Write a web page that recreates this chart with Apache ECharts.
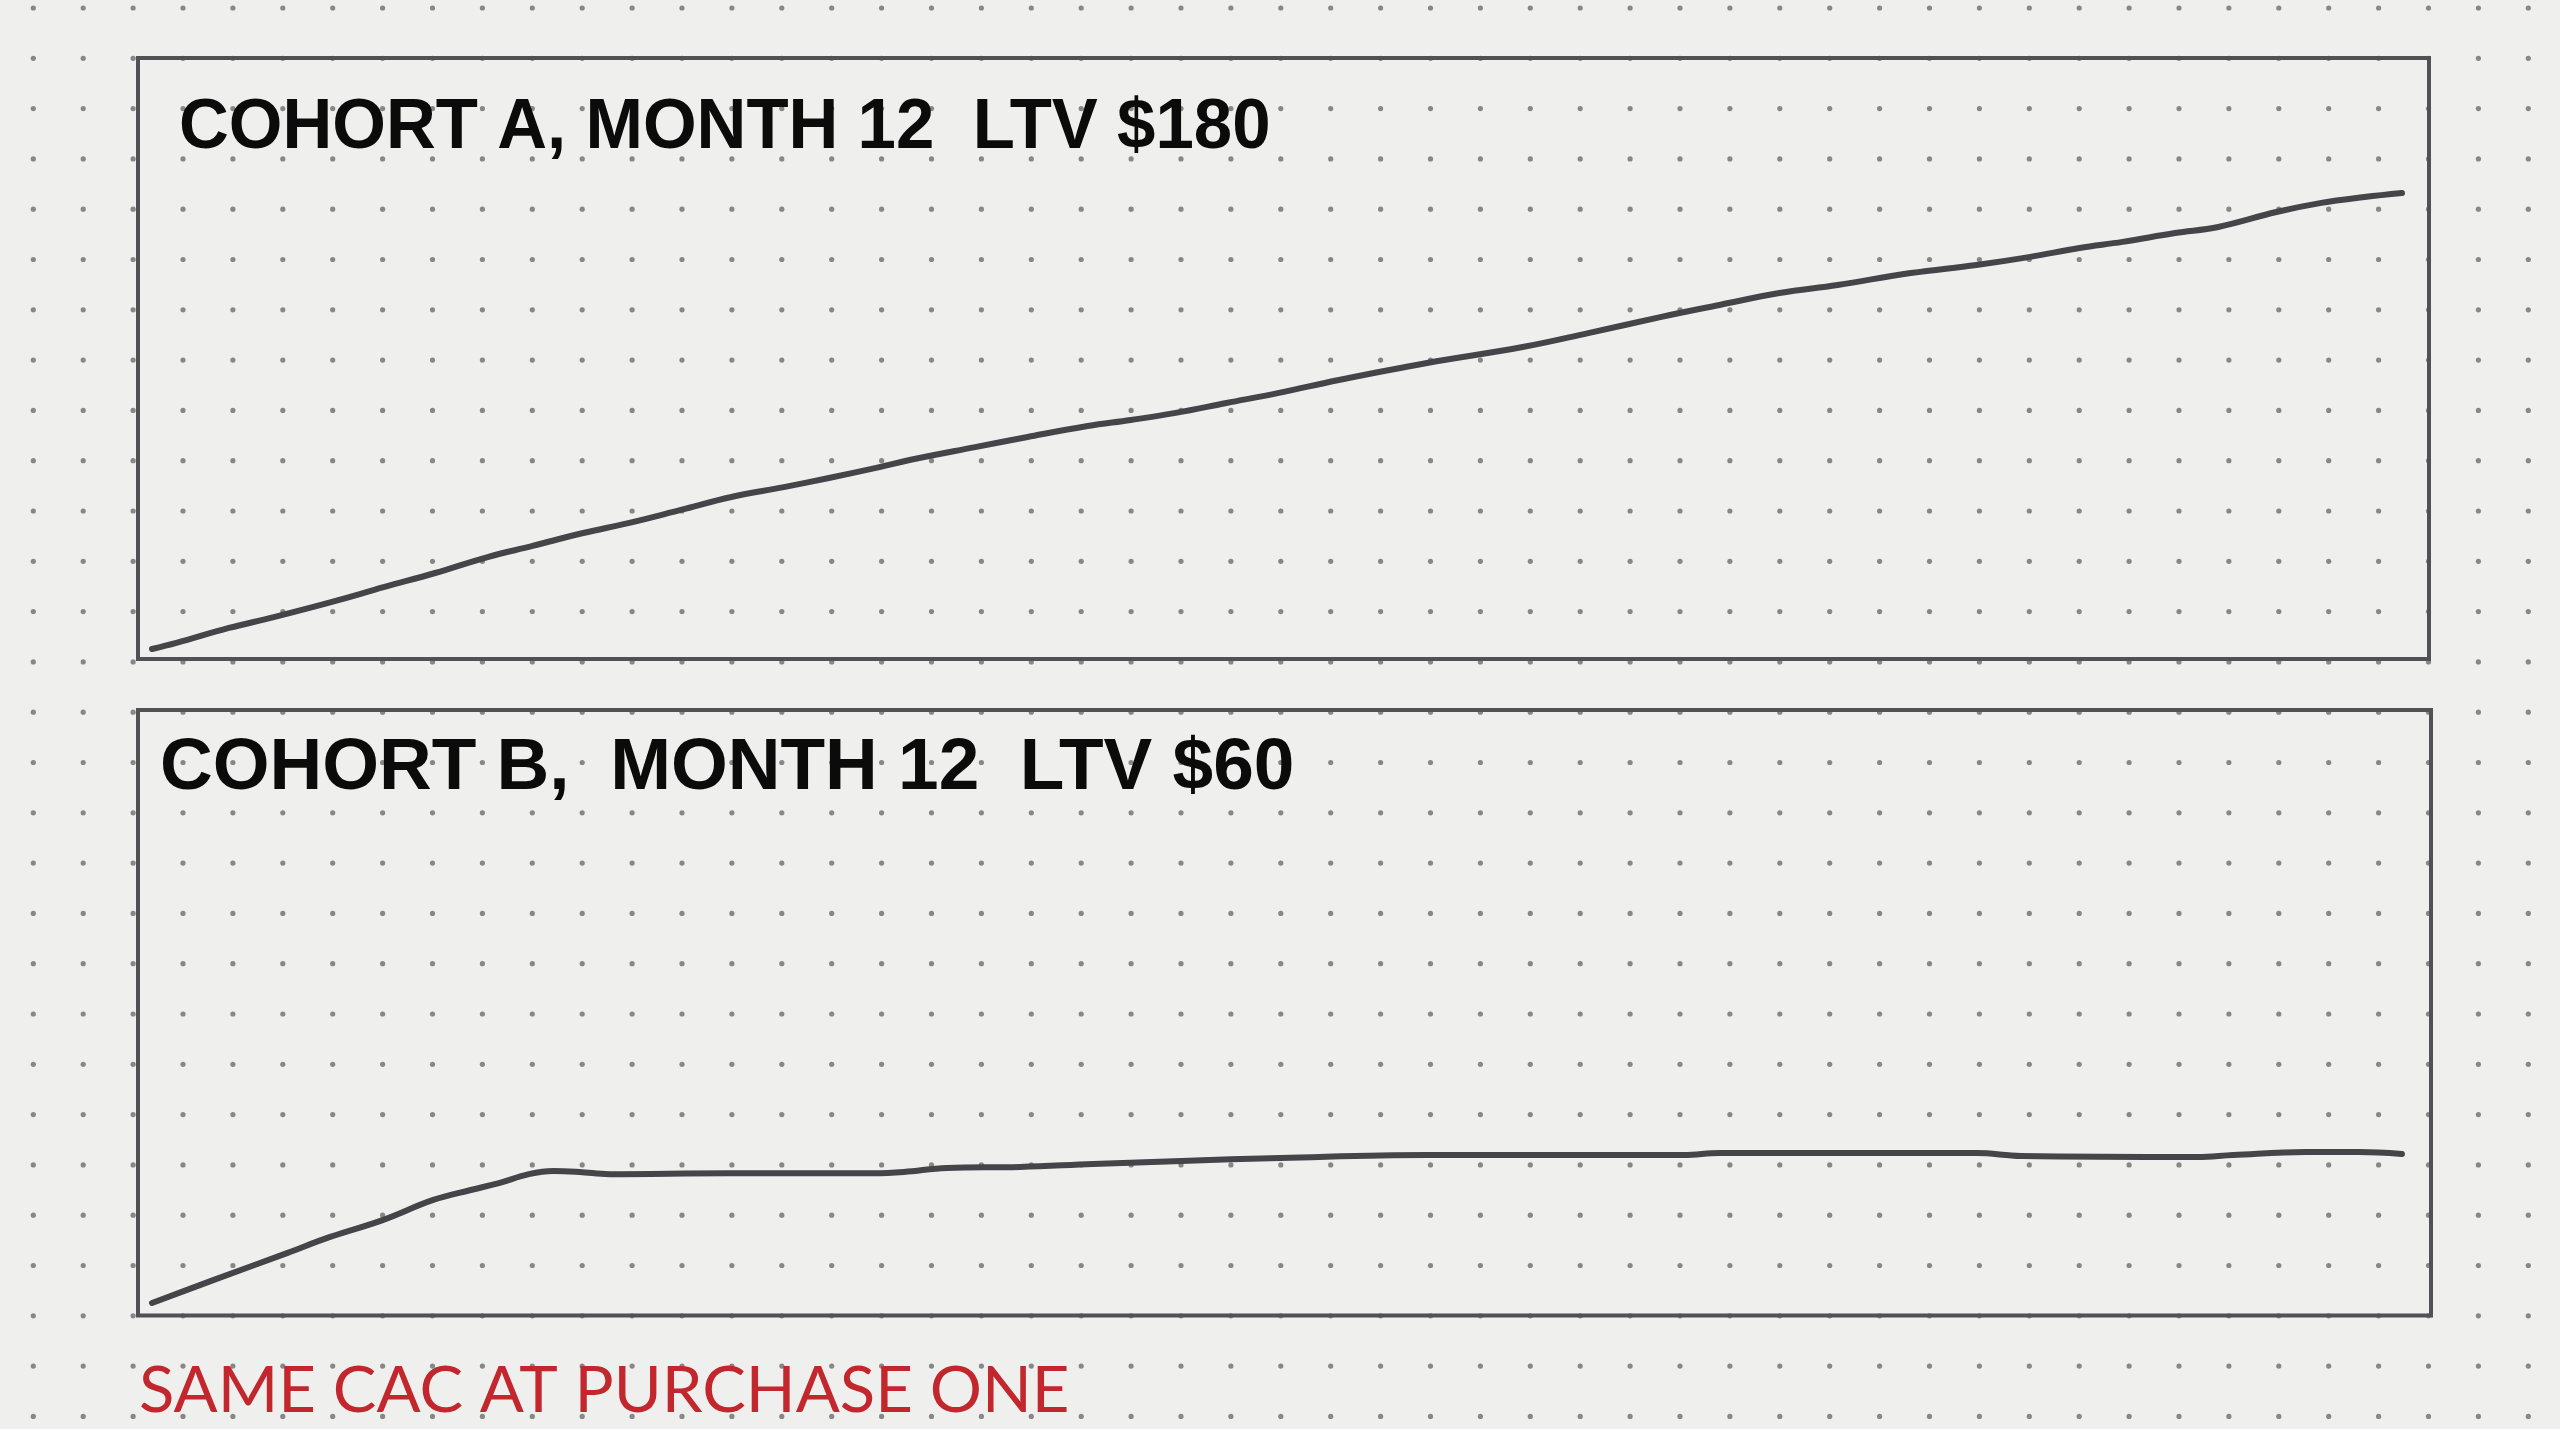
<!DOCTYPE html>
<html><head><meta charset="utf-8">
<script src="https://cdn.jsdelivr.net/npm/echarts@6/dist/echarts.min.js"></script>
<style>html,body{margin:0;padding:0;background:#efefee;overflow:hidden}#c{width:2560px;height:1429px;}</style>
</head><body><div id="c"></div>
<script>
// Cohort A: cumulative LTV ($) by month
const cohortAMonth = [0, 0.13, 0.41, 0.65, 0.96, 1.24, 1.51, 1.79, 2.03, 2.30, 2.54, 2.82, 3.09, 3.37, 3.61, 3.88, 4.04, 4.39, 4.67, 4.99, 5.22, 5.46, 5.73, 6.01, 6.33, 6.80, 7.31, 7.66, 8.05, 8.36, 8.68, 8.99, 9.38, 9.73, 10.01, 10.28, 10.51, 10.79, 11.02, 11.33, 11.57, 11.80, 12.0];
const cohortALtv   = [0, 2.4, 8.3, 12.6, 18.6, 24.5, 30.0, 36.3, 40.7, 45.8, 49.7, 54.9, 60.0, 63.9, 67.5, 71.8, 74.6, 79.7, 83.7, 88.0, 90.4, 93.2, 97.1, 101.1, 106.2, 112.9, 119.2, 124.7, 131.1, 135.8, 140.5, 143.7, 148.4, 151.6, 154.7, 158.3, 160.7, 164.2, 166.6, 172.5, 176.1, 178.4, 180];
// Cohort B: cumulative LTV ($) by month
const cohortBMonth = [0, 0.33, 0.72, 0.95, 1.23, 1.50, 1.70, 1.85, 2.01, 2.14, 2.28, 2.44, 3.07, 3.85, 4.01, 4.24, 4.63, 5.02, 5.49, 6.02, 6.80, 8.17, 8.36, 9.73, 9.97, 10.91, 11.10, 11.49, 11.77, 12.0];
const cohortBLtv   = [0, 9.3, 20.1, 26.6, 33.4, 41.5, 45.5, 48.3, 51.9, 53.2, 52.8, 51.9, 52.3, 52.3, 52.8, 54.4, 54.8, 56.0, 57.2, 58.4, 59.6, 59.6, 60.4, 60.4, 59.2, 58.8, 59.6, 60.8, 60.8, 60.0];
const panelTitles = ['COHORT A, MONTH 12  LTV $180', 'COHORT B,  MONTH 12  LTV $60'];
const footnote = 'SAME CAC AT PURCHASE ONE';

function dotTile() {
  const c = document.createElement('canvas');
  c.width = 499; c.height = 503;
  const g = c.getContext('2d');
  g.fillStyle = '#efefee'; g.fillRect(0, 0, 499, 503);
  g.fillStyle = '#878787';
  for (let i = 0; i < 10; i++) for (let j = 0; j < 10; j++) {
    g.beginPath(); g.arc(33.3 + i * 49.9, 8 + j * 50.3, 2.6, 0, Math.PI * 2); g.fill();
  }
  return c;
}

const ink = '#444449';
const frame = { show: true, borderColor: '#505055', borderWidth: 4, backgroundColor: 'transparent' };
const lineStyle = { width: 6, color: ink, cap: 'round', join: 'round' };

const chart = echarts.init(document.getElementById('c'), null, { renderer: 'canvas' });
chart.setOption({
  animation: false,
  backgroundColor: { image: dotTile(), repeat: 'repeat' },
  grid: [
    Object.assign({ left: 138, top: 58, width: 2291, height: 601 }, frame),
    Object.assign({ left: 138, top: 710, width: 2293, height: 605.5 }, frame)
  ],
  xAxis: [
    { gridIndex: 0, type: 'value', min: -0.0747, max: 12.144, show: false },
    { gridIndex: 1, type: 'value', min: -0.0747, max: 12.155, show: false }
  ],
  yAxis: [
    { gridIndex: 0, type: 'value', min: -3.95, max: 233.3, show: false },
    { gridIndex: 1, type: 'value', min: -5.03, max: 238.8, show: false }
  ],
  series: [
    { type: 'line', xAxisIndex: 0, yAxisIndex: 0, smooth: 0.4, symbol: 'none', lineStyle: lineStyle,
      data: cohortAMonth.map((m, i) => [m, cohortALtv[i]]) },
    { type: 'line', xAxisIndex: 1, yAxisIndex: 1, smooth: 0.4, symbol: 'none', lineStyle: lineStyle,
      data: cohortBMonth.map((m, i) => [m, cohortBLtv[i]]) }
  ],
  graphic: [
    { type: 'text', x: 179, y: 128, scaleX: 0.972, style: { text: panelTitles[0], fill: '#0b0b0b',
      font: 'bold 71px "Liberation Sans", Arial, sans-serif', verticalAlign: 'middle', align: 'left' } },
    { type: 'text', x: 160, y: 769, style: { text: panelTitles[1], fill: '#0b0b0b',
      font: 'bold 73px "Liberation Sans", Arial, sans-serif', verticalAlign: 'middle', align: 'left' } },
    { type: 'text', x: 139, y: 1391, scaleX: 1.02, style: { text: footnote, fill: '#c1272d',
      font: '400 64px Lato, "Liberation Sans", sans-serif', verticalAlign: 'middle', align: 'left' } }
  ]
});
</script></body></html>
